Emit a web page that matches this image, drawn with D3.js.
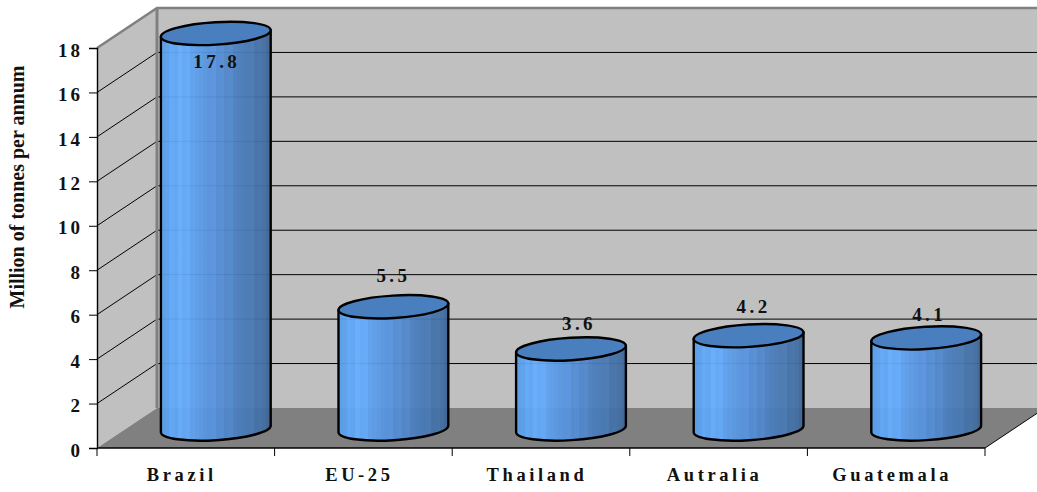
<!DOCTYPE html>
<html>
<head>
<meta charset="utf-8">
<script src="https://cdn.jsdelivr.net/npm/d3@7"></script>
<style>
  html, body { margin: 0; padding: 0; background: #fff; overflow: hidden; }
  svg { display: block; }
  text { font-family: "Liberation Serif", serif; font-weight: bold; fill: #111; }
</style>
</head>
<body>
<svg id="chart" width="1037" height="492"></svg>
<script>
// Annual output by producer, million tonnes
const categories = ["Brazil", "EU-25", "Thailand", "Autralia", "Guatemala"];
const values = [17.8, 5.5, 3.6, 4.2, 4.1];
const valueLabels = ["17.8", "5.5", "3.6", "4.2", "4.1"];
const yTicks = [0, 2, 4, 6, 8, 10, 12, 14, 16, 18];
const yTitle = "Million of tonnes per annum";

const svg = d3.select("#chart");

// Front plane of the box and the oblique offset to its back plane
const x = d3.scaleBand().domain(categories).range([97, 985]);
const y = d3.scaleLinear().domain([0, 18]).range([448, 48]);
const depth = { dx: 60, dy: -40 };

const WALL = "#c0c0c0", FLOOR = "#808080", EDGE = "#808080";
const plotL = x.range()[0], plotR = x.range()[1];
const plotB = y(0), plotT = y(18);

// Cylinder shape
const rx = 55, ry = 11.2, tilt = -3.5;
const rad = tilt * Math.PI / 180;
const ex = rx * Math.cos(rad), ey = rx * Math.sin(rad);
const barCx = c => x(c) + x.bandwidth() / 2 + depth.dx / 2;
const barBaseLift = -19;

// Faceted shading across the cylinder body
const shade = d3.scaleLinear()
  .domain([0, 0.2, 0.55, 0.8, 1])
  .range(["#589ee9", "#62a9f9", "#5189d0", "#4677b2", "#3d6595"]);
const facetEdges = d3.range(0, 1.0001, 1 / 26);
const brightFacets = [2, 4, 6, 12, 14, 16, 21, 23, 24];
const defs = svg.append("defs");
const grad = defs.append("linearGradient")
  .attr("id", "bodyFill").attr("x1", 0).attr("x2", 1).attr("y1", 0).attr("y2", 0);
facetEdges.slice(0, -1).forEach((f, i) => {
  const g = facetEdges[i + 1];
  let col = d3.color(shade((f + g) / 2));
  if (brightFacets.includes(i)) col = col.brighter(0.1);
  grad.append("stop").attr("offset", f).attr("stop-color", col.formatHex());
  grad.append("stop").attr("offset", g).attr("stop-color", col.formatHex());
});

// Back wall
svg.append("rect")
  .attr("x", plotL + depth.dx).attr("y", plotT + depth.dy)
  .attr("width", plotR - plotL).attr("height", plotB - plotT)
  .attr("fill", WALL);

// Side wall
svg.append("path")
  .attr("d", d3.line()([
    [plotL, plotT], [plotL + depth.dx, plotT + depth.dy],
    [plotL + depth.dx, plotB + depth.dy], [plotL, plotB]
  ]) + "Z")
  .attr("fill", WALL);

// Floor
svg.append("path")
  .attr("d", d3.line()([
    [plotL, plotB], [plotR, plotB],
    [plotR + depth.dx, plotB + depth.dy], [plotL + depth.dx, plotB + depth.dy]
  ]) + "Z")
  .attr("fill", FLOOR);

// Gridlines run along the side wall and across the back wall
const grid = svg.append("g");
yTicks.filter(t => t > 0 && t < 18).forEach(t => {
  grid.append("path")
    .attr("d", d3.line()([
      [plotL, y(t)],
      [plotL + depth.dx, y(t) + depth.dy],
      [plotR + depth.dx, y(t) + depth.dy]
    ]))
    .attr("fill", "none").attr("stroke", "#000").attr("stroke-width", 1);
});

// Box outline: grey upper rim and wall joint
svg.append("path")
  .attr("d", d3.line()([
    [plotL, plotT], [plotL + depth.dx, plotT + depth.dy],
    [plotR + depth.dx, plotT + depth.dy]
  ]))
  .attr("fill", "none").attr("stroke", EDGE).attr("stroke-width", 2.5);
svg.append("line")
  .attr("x1", plotL + depth.dx).attr("x2", plotL + depth.dx)
  .attr("y1", plotT + depth.dy).attr("y2", plotB + depth.dy)
  .attr("stroke", EDGE).attr("stroke-width", 3);

// Front right floor edge
svg.append("line")
  .attr("x1", plotR).attr("y1", plotB)
  .attr("x2", plotR + depth.dx).attr("y2", plotB + depth.dy)
  .attr("stroke", "#000").attr("stroke-width", 1);

// Cylinders
const bars = svg.append("g").selectAll("g")
  .data(categories.map((c, i) => ({ c, v: values[i] })))
  .join("g");

bars.append("path")
  .attr("d", d => {
    const cx = barCx(d.c);
    const yb = y(0) + barBaseLift, yt = y(d.v) + barBaseLift;
    return `M${cx - ex},${yt - ey}L${cx - ex},${yb - ey}` +
      `A${rx},${ry} ${tilt} 0 0 ${cx + ex},${yb + ey}` +
      `L${cx + ex},${yt + ey}Z`;
  })
  .attr("fill", "url(#bodyFill)")
  .attr("fill-opacity", 0.94)
  .attr("stroke", "#000").attr("stroke-width", 2.4).attr("stroke-linejoin", "round");

bars.append("ellipse")
  .attr("rx", rx).attr("ry", ry)
  .attr("transform", d => `translate(${barCx(d.c)},${y(d.v) + barBaseLift}) rotate(${tilt})`)
  .attr("fill", "#4a7fbf")
  .attr("stroke", "#000").attr("stroke-width", 2.4);

// Value annotations; each sits where it clears its cylinder
const labelNudge = [[1, 15.6], [0, -43.8], [8, -38], [5, -41.7], [3, -35.9]];
svg.append("g").selectAll("text")
  .data(valueLabels)
  .join("text")
  .attr("x", (d, i) => barCx(categories[i]) + labelNudge[i][0])
  .attr("y", (d, i) => y(values[i]) + labelNudge[i][1])
  .attr("text-anchor", "middle")
  .attr("font-size", 19)
  .attr("letter-spacing", 3.4)
  .text(d => d);

// Value axis
const yAxis = svg.append("g")
  .attr("transform", `translate(${plotL},0)`)
  .call(d3.axisLeft(y).tickValues(yTicks).tickSize(8).tickPadding(6).tickFormat(d3.format("d")));
yAxis.select(".domain").attr("stroke", "#000").attr("stroke-width", 1.4);
yAxis.selectAll(".tick line").attr("stroke", "#000");
yAxis.selectAll("text")
  .attr("font-size", 19).attr("letter-spacing", 3).attr("dy", "0.43em")
  .attr("font-family", '"Liberation Serif", serif').attr("fill", "#111");

// Category axis with ticks on the band boundaries
const xAxis = svg.append("g").attr("transform", `translate(0,${plotB})`);
xAxis.append("line")
  .attr("x1", plotL).attr("x2", plotR)
  .attr("stroke", "#000").attr("stroke-width", 1.4);
xAxis.selectAll("line.boundary")
  .data(categories.concat("end"))
  .join("line")
  .attr("class", "boundary")
  .attr("x1", (d, i) => plotL + i * x.step())
  .attr("x2", (d, i) => plotL + i * x.step())
  .attr("y1", 0).attr("y2", 8)
  .attr("stroke", "#000");
xAxis.selectAll("text")
  .data(categories)
  .join("text")
  .attr("x", d => x(d) + x.bandwidth() / 2 - 4)
  .attr("y", 33)
  .attr("text-anchor", "middle")
  .attr("font-size", 18.5)
  .attr("letter-spacing", 3.6)
  .text(d => d);

// Axis title
svg.append("text")
  .attr("transform", "translate(24,187) rotate(-90)")
  .attr("text-anchor", "middle")
  .attr("font-size", 20)
  .text(yTitle);
</script>
</body>
</html>
